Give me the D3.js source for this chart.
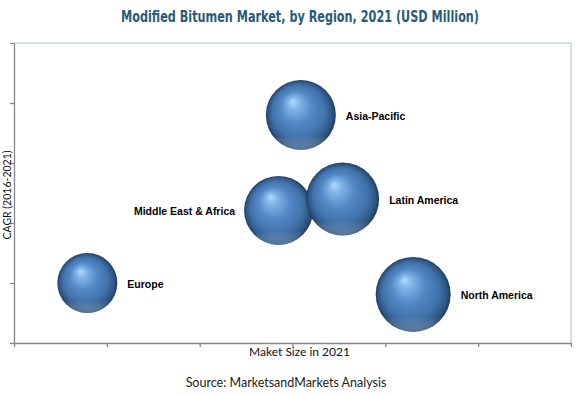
<!DOCTYPE html>
<html><head><meta charset="utf-8">
<script src="https://cdn.jsdelivr.net/npm/d3@7/dist/d3.min.js"></script>
<style>
body{margin:0;background:#fff;}
svg{display:block;}
</style></head>
<body>
<svg id="chart" width="578" height="396"></svg>
<script>
const regions = ["Europe", "Middle East & Africa", "Asia-Pacific", "Latin America", "North America"];
const marketSize = [0.79, 2.85, 3.09, 3.54, 4.30];   // x (relative)
const cagr = [1.0, 2.21, 3.8, 2.4, 0.81];            // y (relative)
const bubbleSize = [30, 34.5, 35, 36.5, 37.5];       // relative bubble size
const labelSide = ["right", "left", "right", "right", "right"];
const xTicks = [0, 1, 2, 3, 4, 5, 6];
const yTicks = [0, 1, 2, 3, 4, 5];

const svg = d3.select("#chart");
const m = {left: 14, right: 571, top: 43, bottom: 343};
const x = d3.scaleLinear().domain([0, 6]).range([m.left, m.right]);
const y = d3.scaleLinear().domain([0, 5]).range([m.bottom, m.top]);
const r = d3.scaleLinear().domain([0, 37.5]).range([0, 37.5]);

// gradient
const defs = svg.append("defs");
const g1 = defs.append("radialGradient").attr("id", "ball")
  .attr("cx", "50%").attr("cy", "50%").attr("r", "50%")
  .attr("fx", "38%").attr("fy", "30%");
[[0, "#b0dcfd"], [0.18, "#7fb3e6"], [0.45, "#5489c6"], [0.75, "#4172aa"], [0.92, "#2e5583"], [1, "#1f3b5c"]]
  .forEach(([o, c]) => g1.append("stop").attr("offset", o).attr("stop-color", c));
const g2 = defs.append("linearGradient").attr("id", "rim").attr("x1", 0).attr("y1", 0).attr("x2", 0).attr("y2", 1);
[[0, "#ffffff", 0], [0.8, "#ffffff", 0], [1, "#8fb6dc", 0.45]]
  .forEach(([o, c, a]) => g2.append("stop").attr("offset", o).attr("stop-color", c).attr("stop-opacity", a));

// title
svg.append("text").attr("x", 121).attr("y", 22)
  .attr("font-family", "'Liberation Sans Narrow','DejaVu Sans Condensed','Roboto Condensed',sans-serif")
  .attr("font-weight", "bold").attr("font-size", 15.5).attr("fill", "#2b5a76")
  .attr("textLength", 358).attr("lengthAdjust", "spacingAndGlyphs")
  .text("Modified Bitumen Market, by Region, 2021 (USD Million)");

// frame top/right
svg.append("path").attr("d", `M${m.left},${m.top}H${m.right}V${m.bottom}`)
  .attr("fill", "none").attr("stroke", "#a9bcc6").attr("stroke-width", 1);

// axes
const xAxis = svg.append("g").attr("transform", `translate(0,${m.bottom})`)
  .call(d3.axisBottom(x).tickValues(xTicks).tickFormat("").tickSize(4).tickSizeOuter(0));
const yAxis = svg.append("g").attr("transform", `translate(${m.left},0)`)
  .call(d3.axisLeft(y).tickValues(yTicks).tickFormat("").tickSize(4).tickSizeOuter(0));
[xAxis, yAxis].forEach(a => { a.selectAll("path,line").attr("stroke", "#868686").attr("stroke-width", 1.3); });

// bubbles
const data = regions.map((d, i) => ({name: d, x: marketSize[i], y: cagr[i], s: bubbleSize[i], side: labelSide[i]}));
const bub = svg.append("g").selectAll("g").data(data).join("g");
bub.append("circle").attr("cx", d => x(d.x)).attr("cy", d => y(d.y)).attr("r", d => r(d.s))
  .attr("fill", "url(#ball)");
bub.append("circle").attr("cx", d => x(d.x)).attr("cy", d => y(d.y)).attr("r", d => r(d.s))
  .attr("fill", "url(#rim)");
bub.append("text")
  .attr("x", d => d.side === "right" ? x(d.x) + r(d.s) + 10 : x(d.x) - r(d.s) - 9)
  .attr("y", d => y(d.y) + 1)
  .attr("dy", "0.35em")
  .attr("text-anchor", d => d.side === "right" ? "start" : "end")
  .attr("font-family", "'Liberation Sans',Arial,sans-serif").attr("font-weight", "bold")
  .attr("font-size", 10.5).attr("fill", "#000")
  .text(d => d.name);

// axis titles
svg.append("text").attr("x", (m.left + m.right) / 2 + 7).attr("y", 356).attr("text-anchor", "middle")
  .attr("font-family", "Lato,'Open Sans',sans-serif").attr("font-size", 12).attr("fill", "#111")
  .text("Maket Size in 2021");
svg.append("text").attr("transform", `translate(11,${(m.top + m.bottom) / 2 + 2}) rotate(-90)`)
  .attr("text-anchor", "middle")
  .attr("font-family", "Lato,'Open Sans',sans-serif").attr("font-size", 10.5).attr("fill", "#111")
  .text("CAGR (2016-2021)");
svg.append("text").attr("x", 286).attr("y", 387).attr("text-anchor", "middle")
  .attr("font-family", "Lato,'Open Sans',sans-serif").attr("font-size", 12.5).attr("fill", "#222")
  .text("Source: MarketsandMarkets Analysis");
</script>
</body></html>
